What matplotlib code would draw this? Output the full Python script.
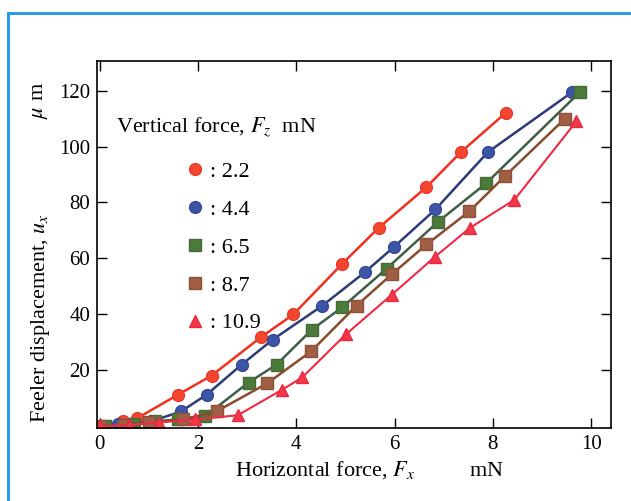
import matplotlib.pyplot as plt
from matplotlib.lines import Line2D

plt.rcParams['font.family'] = ['Liberation Serif', 'DejaVu Serif']
plt.rcParams['mathtext.fontset'] = 'stix'

# Data
x_22 = [0, 0.48, 0.77, 1.6, 2.28, 3.29, 3.94, 4.93, 5.68, 6.65, 7.35, 8.26]
y_22 = [0, 2.0, 3.0, 11.4, 18.2, 32.0, 40.0, 58.0, 71.0, 85.5, 98.0, 112.0]

x_44 = [0, 0.38, 1.0, 1.66, 2.18, 2.89, 3.52, 4.52, 5.39, 5.98, 6.83, 7.9, 9.62]
y_44 = [0, 0.7, 1.5, 5.4, 11.4, 22.1, 31.0, 43.0, 55.0, 64.0, 77.5, 98.0, 119.5]

x_65 = [0.1, 0.7, 1.13, 1.6, 2.14, 3.03, 3.6, 4.32, 4.93, 5.84, 6.89, 7.86, 9.78]
y_65 = [0, 0.7, 1.8, 2.5, 3.6, 15.7, 22.1, 34.6, 42.5, 56.4, 73.2, 86.8, 119.6]

x_87 = [0, 0.5, 1.0, 1.7, 2.38, 3.41, 4.3, 5.23, 5.94, 6.65, 7.52, 8.24, 9.47]
y_87 = [0, 0.5, 1.5, 2.5, 5.4, 15.4, 26.8, 43.2, 54.3, 65.0, 76.8, 89.3, 110.0]

x_109 = [0, 0.6, 1.2, 1.95, 2.81, 3.72, 4.12, 5.01, 5.94, 6.83, 7.54, 8.44, 9.7]
y_109 = [0, 0.5, 1.4, 2.5, 4.0, 13.2, 17.5, 32.9, 47.0, 60.7, 71.0, 81.0, 109.0]

labels = [': 2.2', ': 4.4', ': 6.5', ': 8.7', ': 10.9']

fig = plt.figure(figsize=(6.31, 5.01), dpi=100)
ax = fig.add_axes([0.154, 0.146, 0.814, 0.732])

ax.plot(x_22, y_22, '-o', color='#f2301e', mfc='#f4452f', mec='#e83a28', ms=8.5, lw=1.8, label=labels[0])
ax.plot(x_44, y_44, '-o', color='#2c3a78', mfc='#3d55a6', mec='#34479a', ms=8.5, lw=1.8, label=labels[1])
ax.plot(x_65, y_65, '-s', color='#3f5e48', mfc='#4c7a3a', mec='#466a38', ms=8, lw=1.8, label=labels[2])
ax.plot(x_87, y_87, '-s', color='#8a4a2c', mfc='#a05e44', mec='#8e5038', ms=8, lw=1.8, label=labels[3])
ax.plot(x_109, y_109, '-^', color='#f02a45', mfc='#f2384a', mec='#e82a40', ms=8.5, lw=1.5, label=labels[4])

ax.set_xlim(-0.05, 10.4)
ax.set_ylim(-0.5, 130.5)
ax.set_xticks([0, 2, 4, 6, 8, 10])
ax.set_yticks([20, 40, 60, 80, 100, 120])
ax.tick_params(direction='in', length=7, width=1, top=True, right=True, labelsize=15, pad=5)
for s in ax.spines.values():
    s.set_linewidth(1.2)

ax.set_xlabel('Horizontal force, $F_x$          mN', fontsize=16, labelpad=0)
ax.xaxis.set_label_coords(0.53, -0.085)
ax.text(-0.11, 0.30, 'Feeler displacement, $u_x$', transform=ax.transAxes, rotation=90,
        ha='center', va='center', fontsize=16)
ax.text(-0.11, 0.893, '$\\mu$ m', transform=ax.transAxes, rotation=90,
        ha='center', va='center', fontsize=16)

ax.text(0.037, 0.82, 'Vertical force, $F_z$  mN', transform=ax.transAxes,
        ha='left', va='center', fontsize=16)
ax.legend(loc='upper left', bbox_to_anchor=(0.15, 0.757), frameon=False, fontsize=16,
          handlelength=0.9, handletextpad=0.2, labelspacing=0.78, borderpad=0, numpoints=1,
          markerscale=1.0)
for h in ax.get_legend().legend_handles:
    h.set_linestyle('none')

# blue frame around the figure
fig.add_artist(Line2D([8 / 631, 8 / 631], [0, 1 - 13 / 501], transform=fig.transFigure,
                      color='#2b9ee3', lw=2.2))
fig.add_artist(Line2D([8 / 631, 1], [1 - 13 / 501, 1 - 13 / 501], transform=fig.transFigure,
                      color='#2b9ee3', lw=2.2))

plt.savefig('out.png', dpi=100)
